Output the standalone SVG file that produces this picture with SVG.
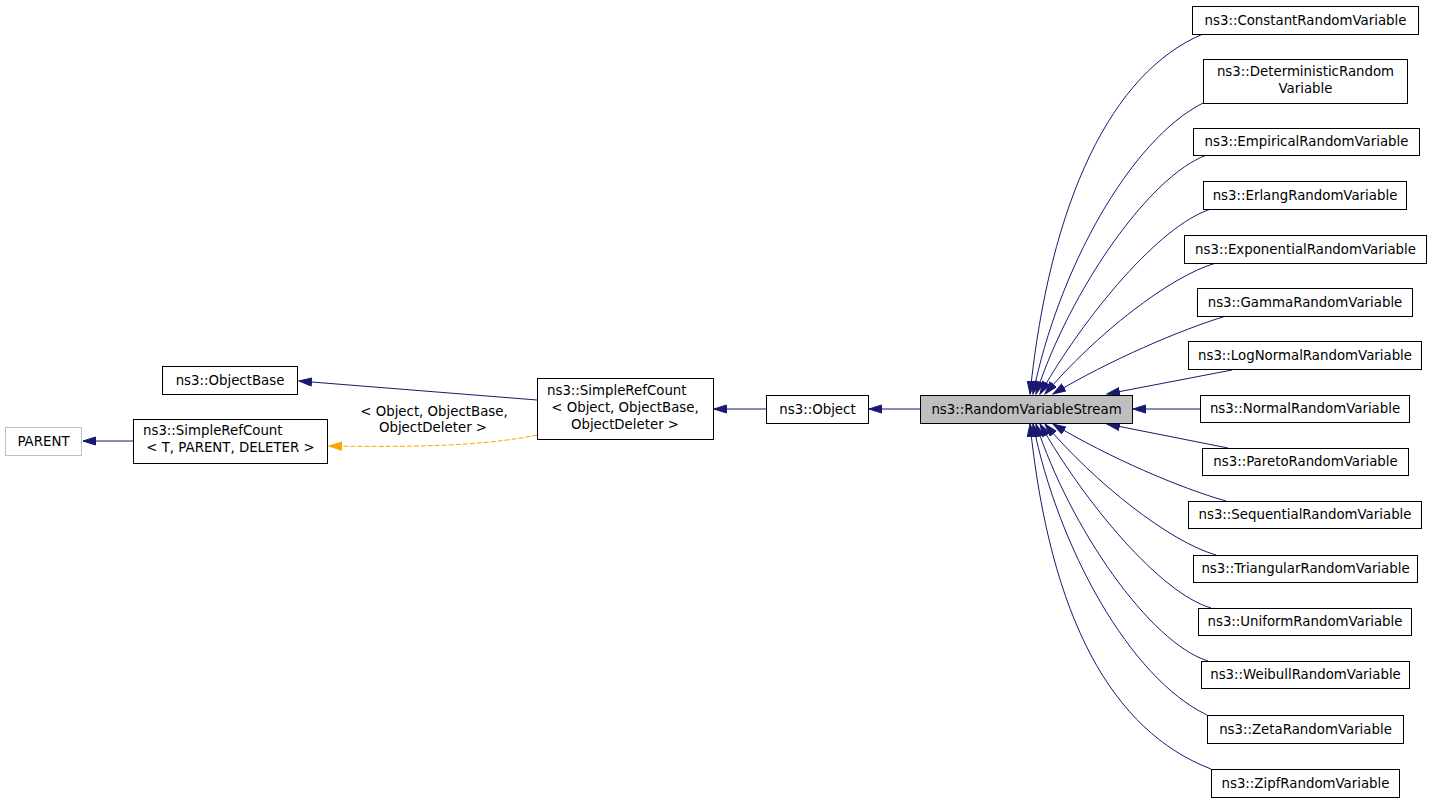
<svg xmlns="http://www.w3.org/2000/svg" width="1432" height="803" viewBox="0 0 1432 803">
<style>
text{font-family:"DejaVu Sans",sans-serif;font-size:13.33px;fill:#000}
.n{fill:#fff;stroke:#000;stroke-width:1}
.g{fill:#fff;stroke:#bfbfbf;stroke-width:1}
.h{fill:#bfbfbf;stroke:#000;stroke-width:1}
.c{text-anchor:middle}
.e{fill:none;stroke:#191970;stroke-width:1;marker-end:url(#a)}
.o{fill:none;stroke:#ffa500;stroke-width:1;stroke-dasharray:5,2;marker-end:url(#b)}
</style>
<defs>
<marker id="a" markerUnits="userSpaceOnUse" markerWidth="15" markerHeight="12" refX="13" refY="4.5" orient="auto"><path d="M0.5,0.5 L13,4.5 L0.5,8.5 Z" fill="#191970" stroke="#191970"/></marker>
<marker id="b" markerUnits="userSpaceOnUse" markerWidth="15" markerHeight="12" refX="13" refY="4.5" orient="auto"><path d="M0.5,0.5 L13,4.5 L0.5,8.5 Z" fill="#ffa500" stroke="#ffa500"/></marker>
</defs>
<rect width="1432" height="803" fill="#fff"/>
<g id="edges">
<path class="e" d="M1203,34 C1112,72 1050,200 1030,394"/>
<path class="e" d="M1203,103 C1130,140 1058,270 1033,394"/>
<path class="e" d="M1207,155 C1150,175 1070,290 1036,394"/>
<path class="e" d="M1211,209 C1160,225 1085,315 1040,394"/>
<path class="e" d="M1216,263 C1170,276 1095,335 1045,394"/>
<path class="e" d="M1226,316 C1180,330 1110,360 1053,394"/>
<path class="e" d="M1232,370 L1107,394"/>
<path class="e" d="M1200,409 L1133,409"/>
<path class="e" d="M1228,448 L1107,424"/>
<path class="e" d="M1226,501 C1180,488 1110,458 1053,424"/>
<path class="e" d="M1216,555 C1170,542 1095,483 1045,424"/>
<path class="e" d="M1211,608 C1160,593 1085,503 1040,424"/>
<path class="e" d="M1208,661 C1150,643 1070,528 1036,424"/>
<path class="e" d="M1207,715 C1130,678 1058,548 1033,424"/>
<path class="e" d="M1211,769 C1112,731 1050,618 1030,424"/>
<path class="e" d="M920,409 L869,409"/>
<path class="e" d="M766,409 L714,409"/>
<path class="e" d="M537,400 L299,381"/>
<path class="o" d="M537,435 C480,447 400,447 329,446"/>
<path class="e" d="M133,441 L83,441"/>
<text class="c" x="434" y="416">&lt; Object, ObjectBase,</text>
<text class="c" x="433" y="432">ObjectDeleter &gt;</text>
</g>
<g id="n_parent"><rect class="g" x="5.5" y="427.5" width="76" height="28"/><text class="c" x="43.5" y="446">PARENT</text></g>
<g id="n_srct"><rect class="n" x="133.5" y="419.5" width="194" height="44"/><text x="143" y="435">ns3::SimpleRefCount</text><text class="c" x="230.5" y="452">&lt; T, PARENT, DELETER &gt;</text></g>
<g id="n_objectbase"><rect class="n" x="162.5" y="366.5" width="135" height="28"/><text class="c" x="230" y="384.5">ns3::ObjectBase</text></g>
<g id="n_srco"><rect class="n" x="537.5" y="378.5" width="176" height="61"/><text x="547" y="395">ns3::SimpleRefCount</text><text class="c" x="625" y="412">&lt; Object, ObjectBase,</text><text class="c" x="625" y="429">ObjectDeleter &gt;</text></g>
<g id="n_object"><rect class="n" x="766.5" y="395.5" width="102" height="28"/><text class="c" x="817.5" y="413.5">ns3::Object</text></g>
<g id="n_rvs"><rect class="h" x="920.5" y="395.5" width="212" height="28"/><text class="c" x="1026.5" y="413.5">ns3::RandomVariableStream</text></g>
<g id="n_constant"><rect class="n" x="1192.5" y="6.5" width="226" height="28"/><text class="c" x="1305.5" y="24.5">ns3::ConstantRandomVariable</text></g>
<g id="n_deterministic"><rect class="n" x="1203.5" y="59.5" width="204" height="44"/><text class="c" x="1305.5" y="76">ns3::DeterministicRandom</text><text class="c" x="1305.5" y="93">Variable</text></g>
<g id="n_empirical"><rect class="n" x="1193.5" y="128.5" width="226" height="27"/><text class="c" x="1306.5" y="146">ns3::EmpiricalRandomVariable</text></g>
<g id="n_erlang"><rect class="n" x="1203.5" y="181.5" width="203" height="28"/><text class="c" x="1305" y="199.5">ns3::ErlangRandomVariable</text></g>
<g id="n_exponential"><rect class="n" x="1184.5" y="235.5" width="242" height="28"/><text class="c" x="1305.5" y="253.5">ns3::ExponentialRandomVariable</text></g>
<g id="n_gamma"><rect class="n" x="1197.5" y="288.5" width="215" height="28"/><text class="c" x="1305" y="306.5">ns3::GammaRandomVariable</text></g>
<g id="n_lognormal"><rect class="n" x="1188.5" y="341.5" width="233" height="28"/><text class="c" x="1305" y="359.5">ns3::LogNormalRandomVariable</text></g>
<g id="n_normal"><rect class="n" x="1200.5" y="395.5" width="209" height="27"/><text class="c" x="1305" y="413">ns3::NormalRandomVariable</text></g>
<g id="n_pareto"><rect class="n" x="1202.5" y="448.5" width="206" height="27"/><text class="c" x="1305.5" y="466">ns3::ParetoRandomVariable</text></g>
<g id="n_sequential"><rect class="n" x="1188.5" y="501.5" width="233" height="27"/><text class="c" x="1305" y="519">ns3::SequentialRandomVariable</text></g>
<g id="n_triangular"><rect class="n" x="1193.5" y="555.5" width="224" height="27"/><text class="c" x="1305.5" y="573">ns3::TriangularRandomVariable</text></g>
<g id="n_uniform"><rect class="n" x="1198.5" y="608.5" width="213" height="27"/><text class="c" x="1305" y="626">ns3::UniformRandomVariable</text></g>
<g id="n_weibull"><rect class="n" x="1201.5" y="661.5" width="208" height="27"/><text class="c" x="1305.5" y="679">ns3::WeibullRandomVariable</text></g>
<g id="n_zeta"><rect class="n" x="1207.5" y="715.5" width="196" height="28"/><text class="c" x="1305.5" y="733.5">ns3::ZetaRandomVariable</text></g>
<g id="n_zipf"><rect class="n" x="1211.5" y="769.5" width="188" height="28"/><text class="c" x="1305.5" y="787.5">ns3::ZipfRandomVariable</text></g>
</svg>
